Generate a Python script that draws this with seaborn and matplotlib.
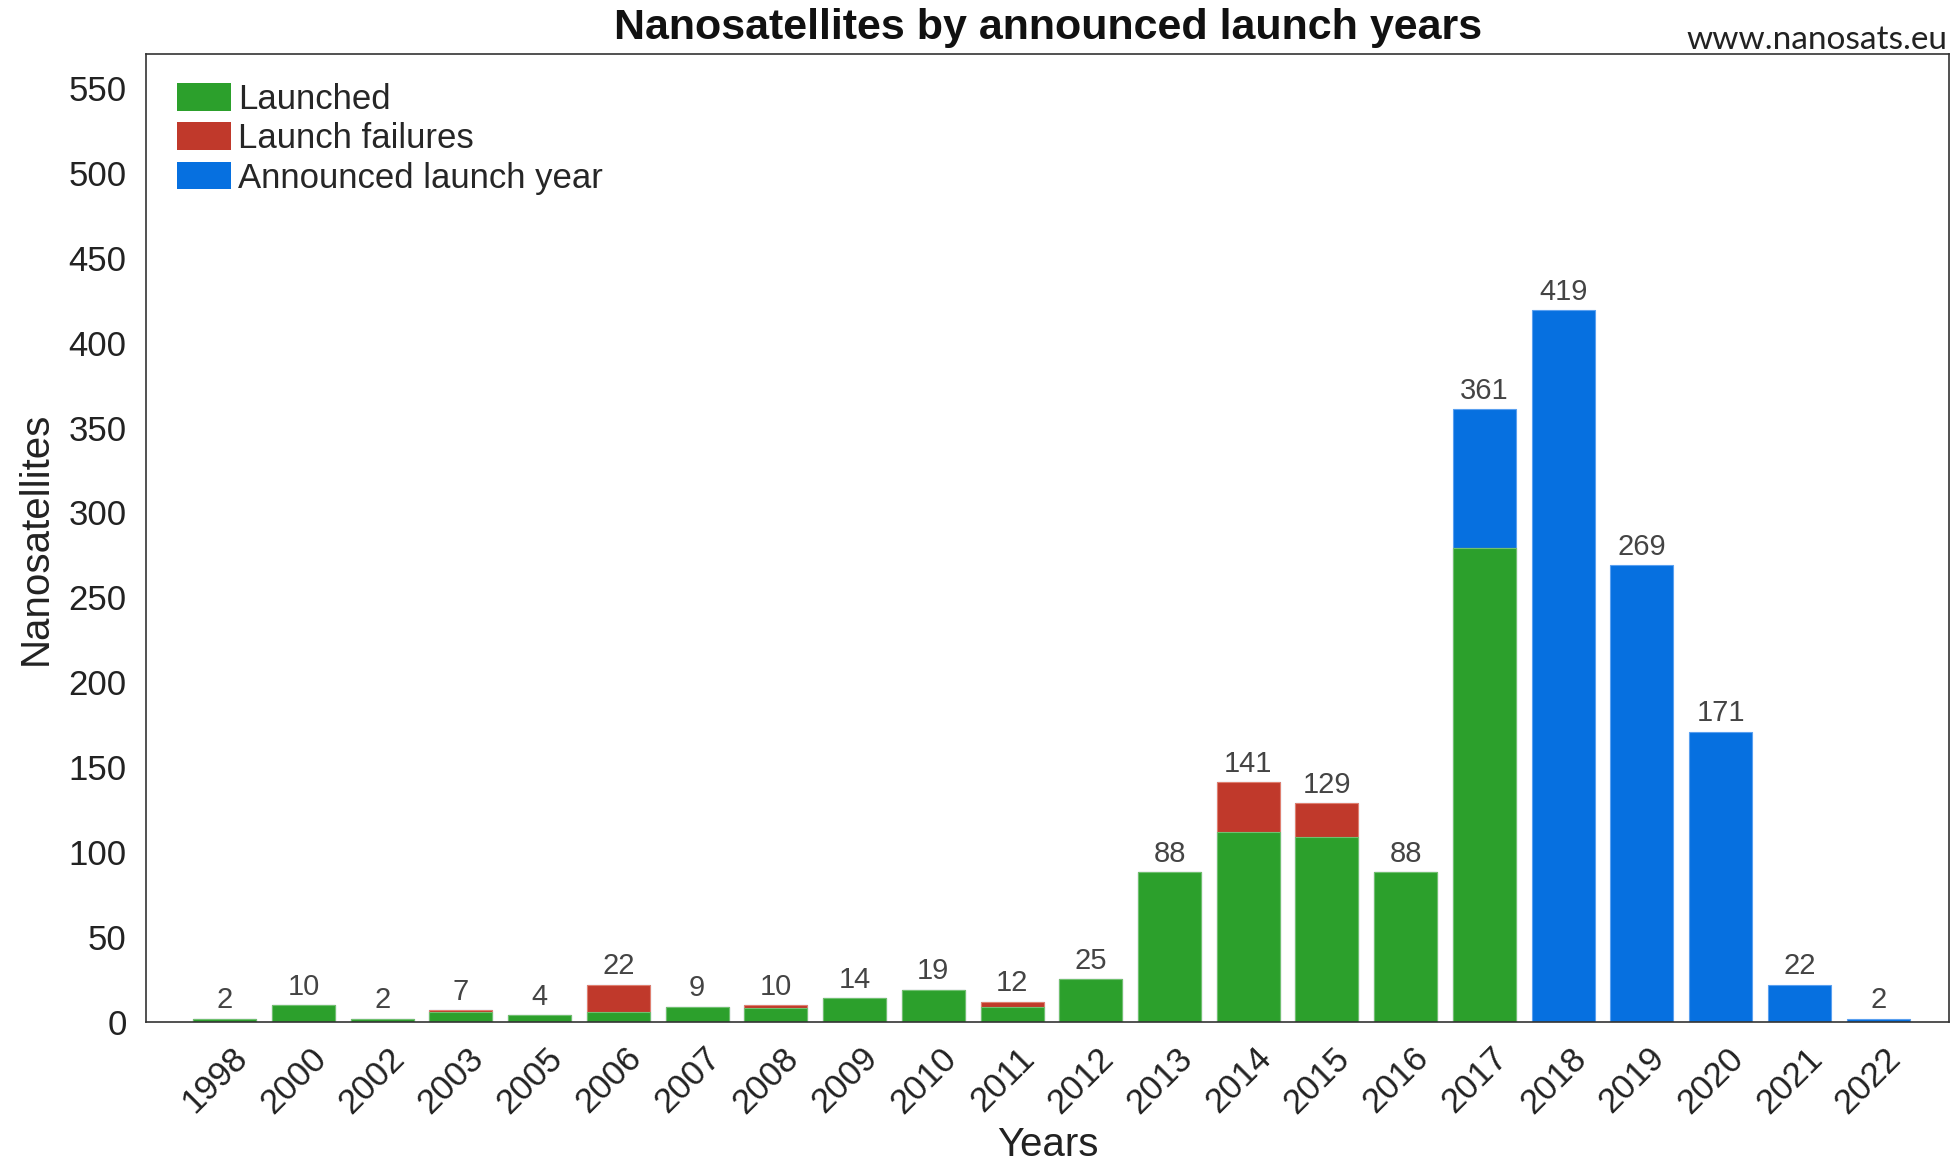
import matplotlib
matplotlib.use("Agg")
import matplotlib.pyplot as plt
import matplotlib.transforms as mtransforms
from matplotlib.patches import Patch
import seaborn as sns
import pandas as pd
import numpy as np

# Nanosatellite counts per year
years = ["1998", "2000", "2002", "2003", "2005", "2006", "2007", "2008", "2009", "2010", "2011",
         "2012", "2013", "2014", "2015", "2016", "2017", "2018", "2019", "2020", "2021", "2022"]
launched = [2, 10, 2, 6, 4, 6, 9, 8, 14, 19, 9, 25, 88, 112, 109, 88, 279, 0, 0, 0, 0, 0]
failures = [0, 0, 0, 1, 0, 16, 0, 2, 0, 0, 3, 0, 0, 29, 20, 0, 0, 0, 0, 0, 0, 0]
announced = [0, 0, 0, 0, 0, 0, 0, 0, 0, 0, 0, 0, 0, 0, 0, 0, 82, 419, 269, 171, 22, 2]

series_names = ["Launched", "Launch failures", "Announced launch year"]
colors = {"Launched": "#2ca02c", "Launch failures": "#c0392b", "Announced launch year": "#0670e0"}

df = pd.DataFrame({"year": years, "launched": launched, "failures": failures, "announced": announced})
df["fail_top"] = df["launched"] + df["failures"]
df["total"] = df["fail_top"] + df["announced"]

sns.set_theme(style="white")
plt.rcParams["font.family"] = ["Liberation Sans", "DejaVu Sans"]

fig = plt.figure(figsize=(19.59, 11.63), dpi=100)
ax = fig.add_axes([0.0745, 0.1213, 0.9204, 0.8323])

# Stack by drawing cumulative heights from the tallest layer down
sns.barplot(data=df, x="year", y="total", order=years, color=colors["Announced launch year"],
            width=0.8, saturation=1, ax=ax, edgecolor="#5aa0f0", linewidth=0.8)
sns.barplot(data=df, x="year", y="fail_top", order=years, color=colors["Launch failures"],
            width=0.8, saturation=1, ax=ax, edgecolor="#e08070", linewidth=0.8)
sns.barplot(data=df, x="year", y="launched", order=years, color=colors["Launched"],
            width=0.8, saturation=1, ax=ax, edgecolor="#70c070", linewidth=0.8)

# Total value above each bar
for i, t in enumerate(df["total"]):
    ax.annotate(str(t), (i, t), xytext=(0, 3), textcoords="offset points",
                ha="center", va="bottom", fontsize=21, color="#444444")

ax.set_xlim(-1.0, 21.9)
ax.set_ylim(0, 570)
ax.set_yticks(np.arange(0, 551, 50))
ax.tick_params(axis="y", labelsize=25, pad=14, length=0, labelcolor="#222222")
ax.tick_params(axis="x", labelsize=25, pad=14, length=0, labelcolor="#222222")
offset = mtransforms.ScaledTranslation(6 / 100, 0, fig.dpi_scale_trans)
for lbl in ax.get_xticklabels():
    lbl.set_rotation(45)
    lbl.set_ha("right")
    lbl.set_rotation_mode("anchor")
    lbl.set_transform(lbl.get_transform() + offset)

ax.set_xlabel("Years", fontsize=29, color="#222222", labelpad=5)
ax.set_ylabel("Nanosatellites", fontsize=29, color="#222222", labelpad=10)

for sp in ax.spines.values():
    sp.set_visible(True)
    sp.set_color("#333333")
    sp.set_linewidth(1.2)

handles = [Patch(facecolor=colors[n], edgecolor="none", label=n) for n in series_names]
ax.legend(handles=handles, loc="upper left", frameon=False, fontsize=25,
          handlelength=1.55, handleheight=0.85, handletextpad=0.2, labelspacing=0.18,
          borderaxespad=0.3, bbox_to_anchor=(0.004, 0.995))

fig.text(0.535, 0.976, "Nanosatellites by announced launch years", ha="center", va="center",
         fontsize=31, fontweight="bold", color="#111111")
fig.text(0.994, 0.966, "www.nanosats.eu", ha="right", va="center",
         fontsize=24, color="#222222", family=["Lato", "DejaVu Sans"])

fig.savefig("out.png", dpi=100)
